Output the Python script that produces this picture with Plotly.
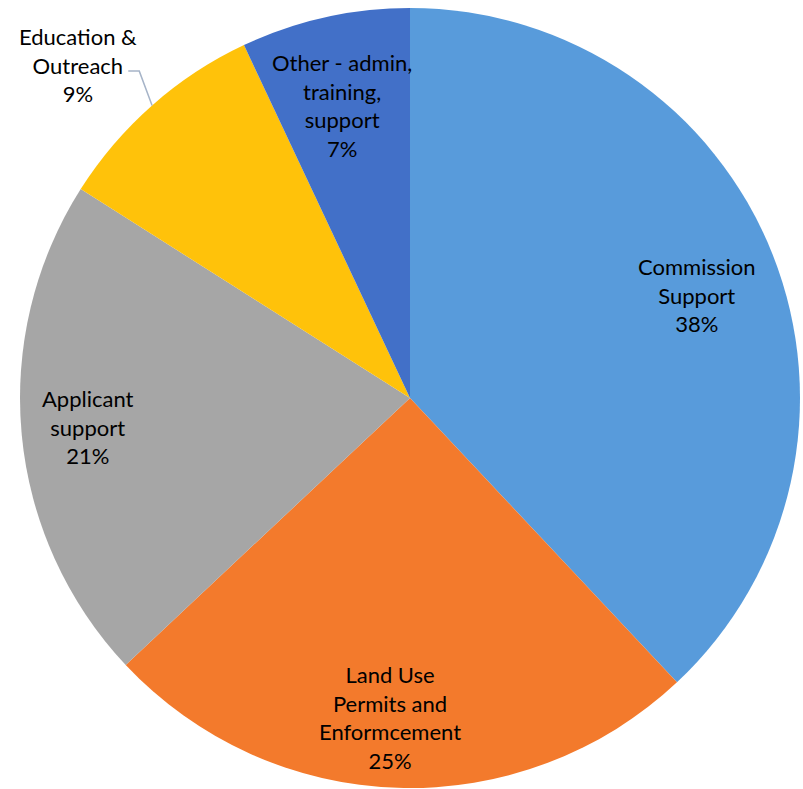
import numpy as np
import plotly.graph_objects as go

labels = ["Commission Support", "Land Use Permits and Enformcement", "Applicant support",
          "Education & Outreach", "Other - admin, training, support"]
label_lines = ["Commission<br>Support", "Land Use<br>Permits and<br>Enformcement", "Applicant<br>support",
               "Education &<br>Outreach", "Other - admin,<br>training,<br>support"]
values = [38, 25, 21, 9, 7]
colors = ["#589BDB", "#F37A2C", "#A6A6A6", "#FFC20A", "#4270C8"]
outside = ["Education & Outreach"]

# label placement (radius fraction, angle nudge in degrees) - mimics Excel best fit
label_r = [0.782, 0.82, 0.83, 1.205, 0.77]
label_dang = [1.9, 1.8, 0.3, -3.5, -0.5]

W, H = 803, 789
CX, CY, R = 410, 398, 390  # pie centre / radius in pixels

fig = go.Figure(go.Pie(
    labels=labels, values=values, sort=False, direction="clockwise", rotation=0,
    marker=dict(colors=colors, line=dict(width=0)),
    textinfo="none", hoverinfo="label+percent",
    domain=dict(x=[(CX - R) / W, (CX + R) / W], y=[1 - (CY + R) / H, 1 - (CY - R) / H]),
))

total = sum(values)
cum = np.cumsum([0] + values[:-1])
for i, (lab, txt, v, c) in enumerate(zip(labels, label_lines, values, cum)):
    mid = 2 * np.pi * (c + v / 2) / total
    theta = mid + np.radians(label_dang[i])
    px = CX + label_r[i] * R * np.sin(theta)
    py = CY - label_r[i] * R * np.cos(theta)
    pct = round(100 * v / total)
    fig.add_annotation(x=px / W, y=1 - py / H, xref="paper", yref="paper",
                       xanchor="center", yanchor="middle",
                       text=f"{txt}<br>{pct}%", showarrow=False,
                       font=dict(family="Lato", size=22, color="#000000"))
    if lab in outside:
        # leader line: label -> elbow -> pie edge at slice mid-angle
        ex = CX + R * np.sin(mid)
        ey = CY - R * np.cos(mid)
        sx, sy = px + 50, py + 6
        fig.add_shape(type="path", xref="paper", yref="paper",
                      path=f"M {sx / W} {1 - sy / H} L {(sx + 11) / W} {1 - sy / H} L {ex / W} {1 - ey / H}",
                      line=dict(color="#A6B4C8", width=1.5))

fig.update_layout(width=W, height=H, margin=dict(l=0, r=0, t=0, b=0),
                  showlegend=False, paper_bgcolor="white", plot_bgcolor="white")

fig.write_html("out.html", config={"displayModeBar": False},
               post_script="document.body.style.margin='0';")
